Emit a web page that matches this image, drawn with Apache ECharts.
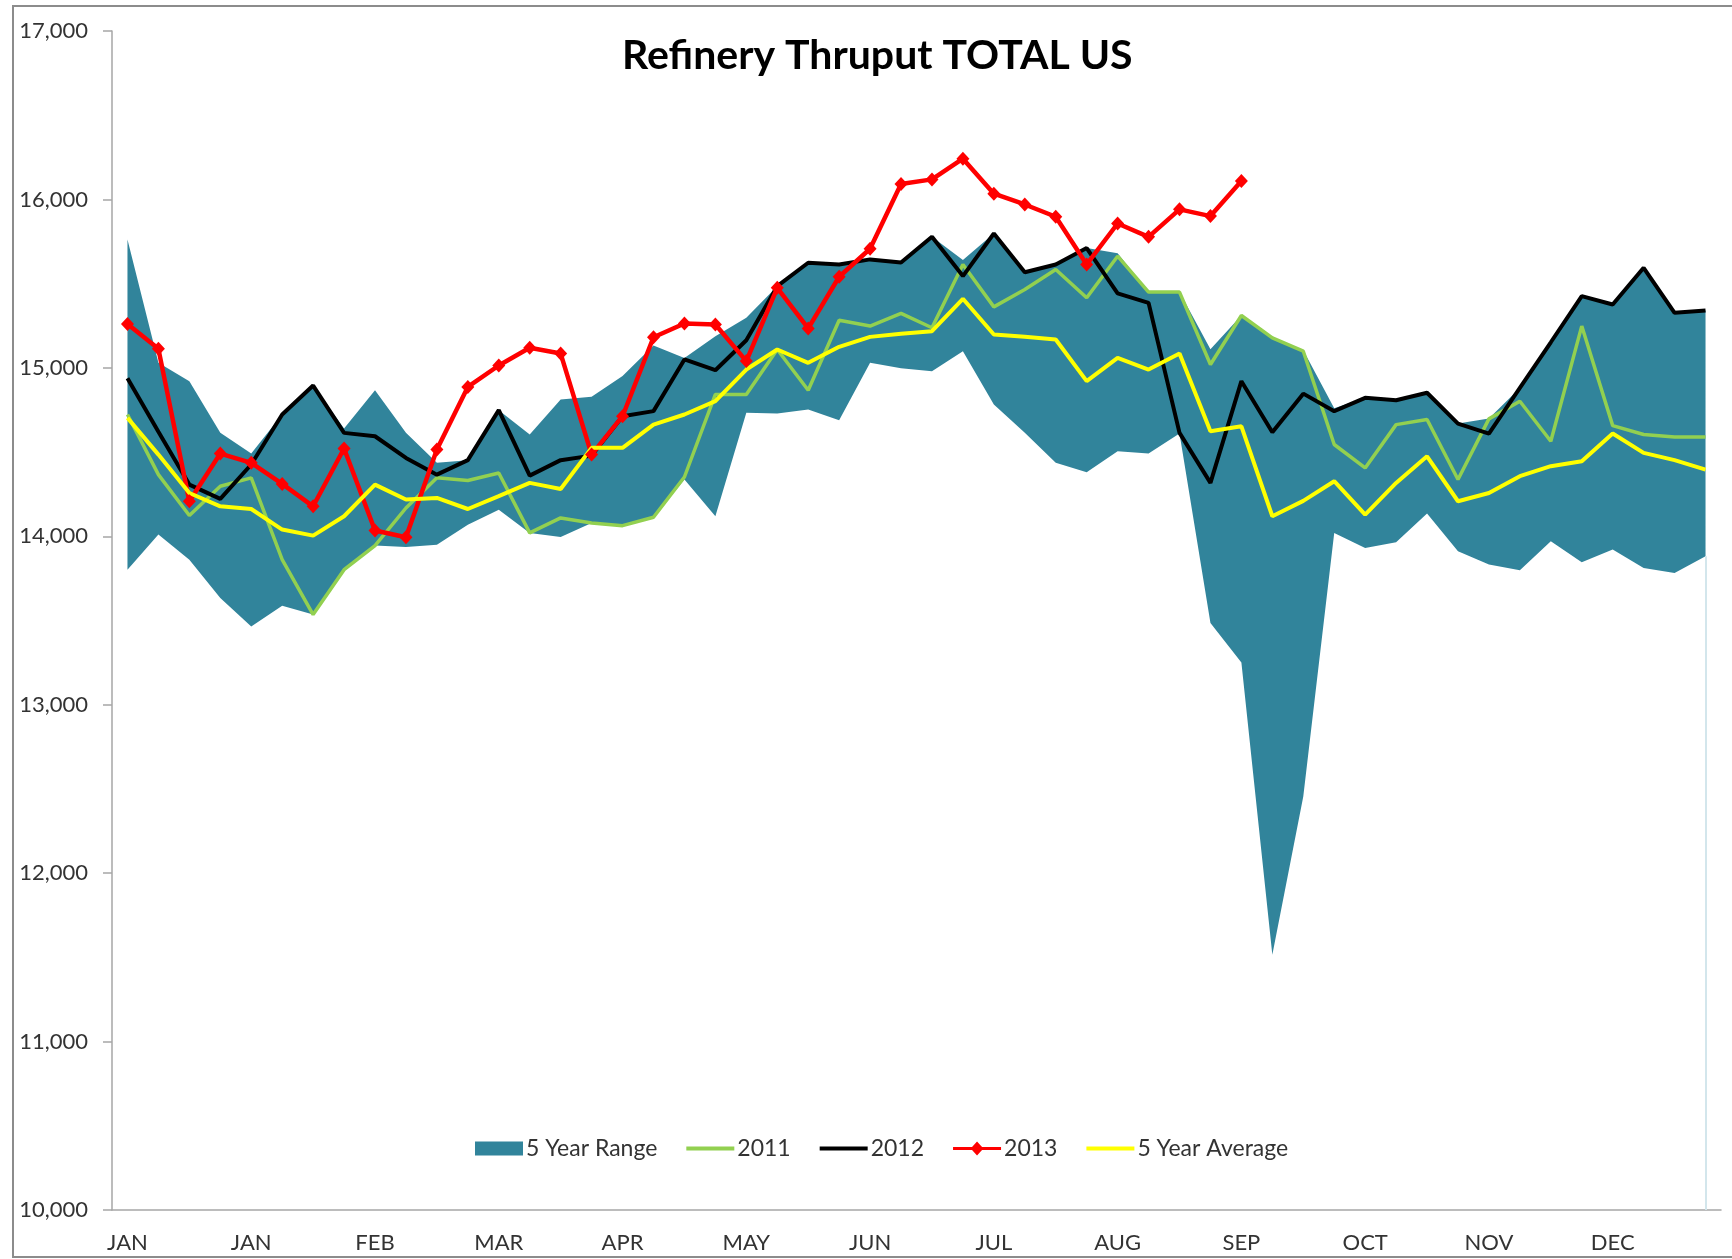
<!DOCTYPE html>
<html>
<head>
<meta charset="utf-8">
<title>Refinery Thruput TOTAL US</title>
<script src="https://cdn.jsdelivr.net/npm/echarts@6/dist/echarts.min.js"></script>
<style>
    html, body { margin: 0; padding: 0; background: #fff; }
    #chart { width: 1732px; height: 1259px; }
</style>
</head>
<body>
<div id="chart"></div>
<script>
// week categories (labels shown every 4 weeks)
const weeks = [
    'JAN', 'JAN', 'JAN', 'JAN', 'JAN', 'FEB', 'FEB', 'FEB',
    'FEB', 'MAR', 'MAR', 'MAR', 'MAR', 'MAR', 'APR', 'APR',
    'APR', 'APR', 'MAY', 'MAY', 'MAY', 'MAY', 'MAY', 'JUN',
    'JUN', 'JUN', 'JUN', 'JUL', 'JUL', 'JUL', 'JUL', 'JUL',
    'AUG', 'AUG', 'AUG', 'AUG', 'SEP', 'SEP', 'SEP', 'SEP',
    'OCT', 'OCT', 'OCT', 'OCT', 'NOV', 'NOV', 'NOV', 'NOV',
    'DEC', 'DEC', 'DEC', 'DEC'
]

// 5 year range: min and max
const rangeLow = [
    13802, 14010, 13861, 13634, 13465, 13588, 13535, 13802, 13945, 13937, 13950, 14069, 14158,
    14020, 13996, 14079, 14063, 14113, 14337, 14119, 14733, 14729, 14753, 14689, 15030, 14997,
    14980, 15099, 14782, 14614, 14436, 14380, 14505, 14491, 14610, 13485, 13250, 11515, 12455,
    14020, 13931, 13964, 14135, 13911, 13832, 13798, 13970, 13846, 13921, 13812, 13782, 13881
]
const rangeHigh = [
    15762, 15030, 14921, 14614, 14491, 14723, 14895, 14640, 14867, 14614, 14436, 14452, 14749,
    14604, 14812, 14828, 14951, 15133, 15059, 15188, 15297, 15485, 15624, 15614, 15644, 15626,
    15778, 15640, 15798, 15568, 15614, 15711, 15680, 15450, 15450, 15110, 15311, 15178, 15104,
    14760, 14822, 14808, 14852, 14669, 14700, 14881, 15152, 15426, 15376, 15594, 15327, 15341
]

const y2011 = [
    14723, 14366, 14123, 14297, 14347, 13861, 13535, 13802, 13945, 14168, 14347, 14331, 14376,
    14020, 14109, 14079, 14063, 14113, 14352, 14842, 14842, 15109, 14867, 15283, 15248, 15323,
    15238, 15614, 15362, 15465, 15584, 15416, 15663, 15450, 15450, 15020, 15311, 15178, 15099,
    14545, 14406, 14663, 14693, 14337, 14697, 14802, 14564, 15248, 14657, 14604, 14590, 14590
]
const y2012 = [
    14939, 14620, 14307, 14222, 14426, 14723, 14895, 14614, 14594, 14465, 14366, 14452, 14749,
    14360, 14452, 14479, 14713, 14743, 15050, 14986, 15164, 15485, 15624, 15614, 15644, 15626,
    15778, 15545, 15798, 15568, 15614, 15711, 15442, 15386, 14614, 14317, 14921, 14618, 14847,
    14743, 14822, 14808, 14852, 14669, 14610, 14881, 15152, 15426, 15376, 15594, 15327, 15341
]
const y2013 = [
    15261, 15113, 14208, 14491, 14436, 14311, 14178, 14521, 14034, 13994, 14515, 14887, 15014,
    15119, 15085, 14485, 14713, 15182, 15263, 15257, 15040, 15475, 15234, 15541, 15707, 16092,
    16119, 16242, 16034, 15970, 15897, 15614, 15857, 15778, 15941, 15901, 16109
]
const avg5 = [
    14703, 14485, 14257, 14178, 14162, 14040, 14004, 14119, 14307, 14218, 14228, 14162, 14238,
    14317, 14281, 14525, 14525, 14663, 14723, 14802, 14990, 15109, 15030, 15125, 15184, 15203,
    15218, 15410, 15198, 15184, 15168, 14921, 15059, 14990, 15085, 14624, 14653, 14119, 14210,
    14327, 14129, 14317, 14475, 14208, 14257, 14357, 14416, 14446, 14610, 14495, 14452, 14396
]

const yTicks = { min: 10000, max: 17000, step: 1000 }

const FONT = 'Lato, "Open Sans", sans-serif'
const TEAL = '#31849B'

// legend icons: plain line, and line with a diamond for 2013
const LINE_ICON = 'path://M0,5H48V9H0Z'
const DIAMOND_ICON = 'path://M0,5.5H19L24,0L29,5.5H48V8.5H29L24,14L19,8.5H0Z'

const chart = echarts.init(document.getElementById('chart'))

// stacked band = low (invisible) + (high - low)
const rangeSpan = rangeHigh.map((h, i) => h - rangeLow[i])
const last = weeks.length - 1

const lineSeries = (name, data, color, width, extra) => Object.assign({
    name,
    type: 'line',
    data,
    symbol: 'none',
    showSymbol: false,
    lineStyle: { color, width },
    itemStyle: { color },
    z: 3
}, extra || {})

const option = {
    animation: false,
    backgroundColor: '#fff',
    title: {
        text: 'Refinery Thruput TOTAL US',
        left: 617,
        top: 30,
        textStyle: { fontFamily: FONT, fontSize: 41, fontWeight: 'bold', color: '#000' }
    },
    grid: { left: 112, right: 11, top: 31, bottom: 49 },
    legend: {
        left: 470,
        top: 1132,
        itemWidth: 48,
        itemHeight: 14,
        itemGap: 29,
        textStyle: { fontFamily: FONT, fontSize: 23, color: '#333', padding: [0, 0, 0, -2] },
        data: [
            { name: '5 Year Range', icon: 'rect' },
            { name: '2011', icon: LINE_ICON },
            { name: '2012', icon: LINE_ICON },
            { name: '2013', icon: DIAMOND_ICON },
            { name: '5 Year Average', icon: LINE_ICON }
        ]
    },
    xAxis: {
        type: 'category',
        data: weeks,
        boundaryGap: true,
        axisLine: { lineStyle: { color: '#a6a6a6', width: 1.5 } },
        axisTick: { interval: 3, length: 8, lineStyle: { color: '#a6a6a6', width: 1.5 } },
        axisLabel: { interval: 3, margin: 22, fontFamily: FONT, fontSize: 22, color: '#333' },
        splitLine: { show: false }
    },
    yAxis: {
        type: 'value',
        min: yTicks.min,
        max: yTicks.max,
        interval: yTicks.step,
        axisLine: { show: true, lineStyle: { color: '#a6a6a6', width: 1.5 } },
        axisTick: { show: true, length: 9, lineStyle: { color: '#a6a6a6', width: 1.5 } },
        axisLabel: {
            margin: 24,
            fontFamily: FONT,
            fontSize: 22,
            color: '#333',
            formatter: v => v.toLocaleString('en-US')
        },
        splitLine: { show: false }
    },
    graphic: [{
        type: 'rect',
        shape: { x: 13, y: 6, width: 1800, height: 1251 },
        style: { fill: 'none', stroke: '#8c8c8c', lineWidth: 2 },
        silent: true
    }],
    series: [
        {
            name: '_base',
            type: 'line',
            stack: 'range',
            data: rangeLow,
            symbol: 'none',
            lineStyle: { width: 0, opacity: 0 },
            z: 1,
            // thin edge of the base area at the last week
            markLine: {
                silent: true,
                symbol: 'none',
                label: { show: false },
                lineStyle: { color: '#d3e6ec', width: 2, type: 'solid' },
                data: [[
                    { coord: [last, yTicks.min] },
                    { coord: [last, rangeLow[last]] }
                ]]
            }
        },
        {
            name: '5 Year Range',
            type: 'line',
            stack: 'range',
            data: rangeSpan,
            symbol: 'none',
            lineStyle: { width: 0, opacity: 0 },
            itemStyle: { color: TEAL },
            areaStyle: { color: TEAL, opacity: 1 },
            z: 1
        },
        lineSeries('2011', y2011, '#92D050', 3.5),
        lineSeries('2012', y2012, '#000000', 4),
        lineSeries('2013', y2013, '#FF0000', 4.5, {
            symbol: 'diamond',
            showSymbol: true,
            symbolSize: [13, 14]
        }),
        lineSeries('5 Year Average', avg5, '#FFFF00', 4)
    ]
}

chart.setOption(option)
</script>
</body>
</html>
